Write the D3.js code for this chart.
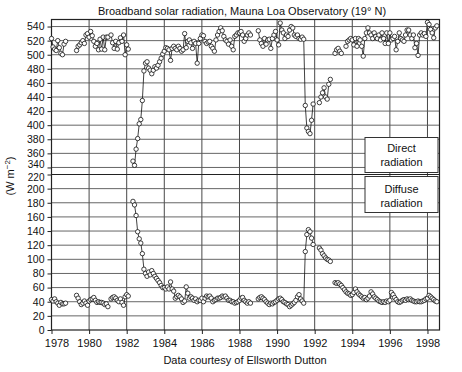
<!DOCTYPE html>
<html>
<head>
<meta charset="utf-8">
<script src="https://cdn.jsdelivr.net/npm/d3@7"></script>
<style>
  body { margin: 0; background: #fff; }
  svg { font-family: "Liberation Sans", Arial, sans-serif; }
</style>
</head>
<body>
<svg width="462" height="372"></svg>
<script>
// monthly means, Jan 1978 onwards (null = no data)
var startYear = 1978;

var direct = [
  523, 511, 508, 506, 520, 510, 502, 500, 515, 519, null, null,   // 1978
  null, null, null, null, 506, 512, 514, 517, 520, 516, 528, 530, // 1979
  525, 533, 527, 519, 512, 516, 507, 522, 508, 525, 507, 525,     // 1980
  525, null, 528, 517, 509, 519, 508, 517, 524, 519, 528, 500,    // 1981
  514, 508, null, null, 349, 343, 366, 381, 402, 408, 435, 477,   // 1982
  488, 490, 481, 478, 473, 478, 483, 481, 485, 490, 495, 501,     // 1983
  505, 510, 509, 507, 492, 509, 512, 509, 507, 512, 509, 505,     // 1984
  507, 530, 510, 519, 521, 517, 509, 519, 516, 488, 516, 523,     // 1985
  528, 527, 519, 516, 518, 519, 512, 509, 505, 521, 528, 533,     // 1986
  538, 534, 526, 521, 519, 515, 521, 512, 507, 526, 528, 531,     // 1987
  531, 533, 528, 519, 523, 528, 531, 528, null, null, null, null, // 1988
  534, 521, 516, 512, 523, 515, 521, 522, 509, 523, 528, 533,     // 1989
  521, 514, 545, 535, 531, 523, 528, 526, 535, 540, 538, 528,     // 1990
  526, 528, 523, 522, 525, 522, 428, 396, 391, 388, 407, 430,     // 1991
  null, null, null, 432, 440, 446, 453, 440, 437, 458, 465, null, // 1992
  null, 502, 507, 509, 505, 502, null, null, 512, 519, 521, 523,  // 1993
  521, 514, 523, 512, 523, 521, 512, 498, 523, 531, 538, 531,     // 1994
  528, 523, 531, 526, 523, 528, 521, 531, 523, 516, 531, 516,     // 1995
  531, 521, 523, 526, 507, 519, 531, 523, 521, 519, 528, 535,     // 1996
  535, 528, 523, 528, 510, 516, 499, 528, 531, 528, 530, 526,     // 1997
  546, 543, 536, 531, 524, 538, 541                               // 1998
];

var diffuse = [
  43, 41, 44, 40, 38, 35, 39, 37, 37, 38, null, null,             // 1978
  null, null, null, null, 49, 45, 40, 36, 38, 41, 38, 35,         // 1979
  41, 43, 44, 46, 42, 39, 40, 39, 39, 38, 36, 37,                 // 1980
  33, null, 44, 46, 47, 45, 42, 40, 44, 39, 35, 47,               // 1981
  50, 48, null, null, 182, 177, 162, 139, 129, 123, 108, 86,      // 1982
  80, 76, 82, 78, 84, 80, 76, 73, 70, 67, 63, 60,                 // 1983
  60, 58, 61, 58, 68, 58, 55, 45, 47, 49, 47, 44,                 // 1984
  39, 41, 61, 52, 45, 47, 45, 42, 44, 40, 42, 42,                 // 1985
  45, 40, 45, 48, 47, 48, 45, 40, 42, 43, 45, 45,                 // 1986
  46, 48, 47, 48, 45, 42, 42, 40, 40, 38, 39, 40,                 // 1987
  42, 45, 46, 42, 40, 38, 40, 38, null, null, null, null,         // 1988
  44, 46, 47, 45, 43, 40, 38, 36, 38, 37, 39, 40,                 // 1989
  42, 44, 45, 43, 40, 39, 37, 36, 33, 35, 37, 39,                 // 1990
  42, 47, 50, 44, 41, 38, 111, 135, 142, 139, 130, 121,           // 1991
  null, null, null, 116, 113, 108, 105, 102, 100, 99, 97, null,   // 1992
  null, 67, 66, 67, 65, 63, 60, 57, 54, 52, 51, 49,               // 1993
  50, 53, 58, 54, 51, 49, 47, 45, 46, 43, 45, 48,                 // 1994
  54, 51, 47, 45, 43, 41, 40, 39, 40, 39, 41, 40,                 // 1995
  42, 53, 50, 46, 43, 40, 39, 40, 42, 43, 42, 44,                 // 1996
  43, 44, 42, 41, 40, 40, 41, 40, 40, 41, 42, 44,                 // 1997
  45, 49, 47, 45, 43, 41, 40                                      // 1998
];

var yearTicks = [1978, 1980, 1982, 1984, 1986, 1988, 1990, 1992, 1994, 1996, 1998];
var topTicks = [340, 360, 380, 400, 420, 440, 460, 480, 500, 520, 540];
var bottomTicks = [0, 20, 40, 60, 80, 100, 120, 140, 160, 180, 200, 220];

var title = "Broadband solar radiation, Mauna Loa Observatory (19\u00b0 N)";
var source = "Data courtesy of Ellsworth Dutton";

function draw() {
  var svg = d3.select("svg");
  var left = 51.5, right = 439.5, top = 19.5, bottom = 330, brk = 174.5;

  var x = d3.scaleLinear().domain([1978, 1998.64]).range([left, right]);
  var yTop = d3.scaleLinear().domain([330, 550]).range([brk, top]);
  var yBot = d3.scaleLinear().domain([0, 220]).range([bottom, brk]);

  svg.append("rect").attr("width", 462).attr("height", 372).attr("fill", "#fff");

  // grid
  var grid = svg.append("g").attr("stroke", "#333").attr("stroke-width", 0.9);
  grid.selectAll(".gx").data(yearTicks.slice(1)).enter().append("line")
      .attr("x1", function (d) { return x(d); }).attr("x2", function (d) { return x(d); })
      .attr("y1", top).attr("y2", bottom);
  grid.selectAll(".gt").data(topTicks).enter().append("line")
      .attr("x1", left).attr("x2", right)
      .attr("y1", function (d) { return yTop(d); }).attr("y2", function (d) { return yTop(d); })
      .attr("stroke", "#555");
  grid.selectAll(".gb").data(bottomTicks.slice(1, -1)).enter().append("line")
      .attr("x1", left).attr("x2", right)
      .attr("y1", function (d) { return yBot(d); }).attr("y2", function (d) { return yBot(d); })
      .attr("stroke", "#555");
  // panel break
  svg.append("line").attr("x1", left).attr("x2", right).attr("y1", brk).attr("y2", brk)
      .attr("stroke", "#222").attr("stroke-width", 1.1);

  // axes
  var axTop = svg.append("g").attr("transform", "translate(" + left + ",0)")
      .call(d3.axisLeft(yTop).tickValues(topTicks).tickSize(4).tickPadding(3));
  var axBot = svg.append("g").attr("transform", "translate(" + left + ",0)")
      .call(d3.axisLeft(yBot).tickValues(bottomTicks).tickSize(4).tickPadding(3));
  var axX = svg.append("g").attr("transform", "translate(0," + bottom + ")")
      .call(d3.axisBottom(x).tickValues(yearTicks).tickFormat(d3.format("d")).tickSize(4).tickPadding(5));
  [axTop, axBot, axX].forEach(function (g) {
    g.select(".domain").remove();
    g.selectAll("line").attr("stroke", "#222");
    g.selectAll("text").attr("font-size", 10.5).attr("fill", "#111")
      .attr("font-family", "Liberation Sans, Arial, sans-serif");
  });
  // the two labels either side of the break sit very close together
  axTop.selectAll("text").filter(function (d) { return d === 340; })
      .attr("font-size", 10).attr("dy", "0.05em");
  axBot.selectAll("text").filter(function (d) { return d === 220; })
      .attr("font-size", 10).attr("dy", "0.62em");
  axX.selectAll("text").attr("font-size", 11)
      .attr("dx", function (d, i) { return i === 0 ? 5 : 0; });

  svg.append("rect").attr("x", left).attr("y", top)
      .attr("width", right - left).attr("height", bottom - top)
      .attr("fill", "none").attr("stroke", "#222").attr("stroke-width", 1.2);

  // series
  function series(values, y) {
    var pts = values.map(function (v, i) { return { t: startYear + i / 12, v: v }; });
    var line = d3.line()
        .defined(function (d) { return d.v != null; })
        .x(function (d) { return x(d.t); })
        .y(function (d) { return y(d.v); });
    var g = svg.append("g");
    g.append("path").datum(pts).attr("d", line)
        .attr("fill", "none").attr("stroke", "#111").attr("stroke-width", 0.8);
    g.selectAll("circle").data(pts.filter(function (d) { return d.v != null; }))
      .enter().append("circle")
        .attr("cx", function (d) { return x(d.t); })
        .attr("cy", function (d) { return y(d.v); })
        .attr("r", 2.2)
        .attr("fill", "#fff").attr("stroke", "#111").attr("stroke-width", 0.8);
  }
  series(direct, yTop);
  series(diffuse, yBot);

  // labels in boxes
  function box(y0, h, lines, base) {
    svg.append("rect").attr("x", 365).attr("y", y0).attr("width", 73).attr("height", h)
        .attr("fill", "#fff").attr("stroke", "#333").attr("stroke-width", 1);
    svg.append("text").attr("x", 401.5).attr("y", base).attr("text-anchor", "middle")
        .attr("font-size", 11).attr("fill", "#111")
      .selectAll("tspan").data(lines).enter().append("tspan")
        .attr("x", 401.5).attr("dy", function (d, i) { return i ? 14 : 0; })
        .text(function (d) { return d; });
  }
  box(137.5, 35, ["Direct", "radiation"], 152);
  box(176.5, 36, ["Diffuse", "radiation"], 193);

  // titles
  svg.append("text").attr("x", 242).attr("y", 14.5).attr("text-anchor", "middle")
      .attr("font-size", 11).attr("fill", "#111").text(title);
  svg.append("text").attr("x", 245).attr("y", 364).attr("text-anchor", "middle")
      .attr("font-size", 11).attr("fill", "#111").text(source);

  var yl = svg.append("text").attr("transform", "translate(14,176) rotate(-90)")
      .attr("text-anchor", "middle").attr("font-size", 11).attr("fill", "#111");
  yl.append("tspan").text("(W m");
  yl.append("tspan").attr("dy", -4).attr("font-size", 8).text("\u22122");
  yl.append("tspan").attr("dy", 4).text(")");
}

window.onload = draw;
</script>
</body>
</html>
